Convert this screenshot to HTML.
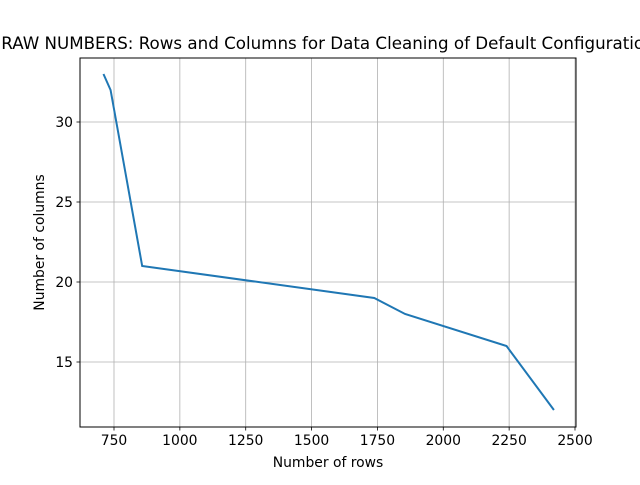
<!DOCTYPE html>
<html><head><meta charset="utf-8"><style>
body{margin:0;background:#fff;}
svg text{font-family:"DejaVu Sans","Liberation Sans",sans-serif;fill:#000;}
</style></head><body>
<svg id="chart" width="640" height="480"></svg>
<script>
const rows=[710,737,857,1738,1855,2240,2420];
const cols=[33,32,21,19,18,16,12];
const xTicks=[750,1000,1250,1500,1750,2000,2250,2500];
const yTicks=[15,20,25,30];
const L=80,R=576,T=58,B=427;
const xs=v=>114+(v-750)*(461/1750);
const ys=v=>122+(30-v)*16;
const svg=document.getElementById('chart');
const NS='http://www.w3.org/2000/svg';
function mk(tag,attrs,parent){const e=document.createElementNS(NS,tag);for(const k in attrs)e.setAttribute(k,attrs[k]);(parent||svg).appendChild(e);return e;}
const grid=mk('g',{});


xTicks.forEach(t=>{const x=xs(t);
mk('line',{x1:x,x2:x,y1:T,y2:B,stroke:'#b0b0b0','stroke-width':0.8},grid);
mk('line',{x1:x,x2:x,y1:B,y2:B+3.5,stroke:'#000','stroke-width':0.8});
const tx=mk('text',{x:x,y:B+18,'font-size':13.9,'text-anchor':'middle'});tx.textContent=t;

});
yTicks.forEach(t=>{const y=ys(t);
mk('line',{x1:L,x2:R,y1:y,y2:y,stroke:'#b0b0b0','stroke-width':0.8},grid);
mk('line',{x1:L-3.5,x2:L,y1:y,y2:y,stroke:'#000','stroke-width':0.8});
const tx=mk('text',{x:L-7,y:y+5,'font-size':13.9,'text-anchor':'end'});tx.textContent=t;

});
const line=mk('polyline',{points:rows.map((r,i)=>xs(r)+','+ys(cols[i])).join(' '),fill:'none',stroke:'#1f77b4','stroke-width':2});


const frame=mk('rect',{x:L,y:T,width:R-L,height:B-T,fill:'none',stroke:'#000','stroke-width':1});


const xt=mk('text',{x:(L+R)/2,y:467,'font-size':13.9,'text-anchor':'middle'});xt.textContent='Number of rows';


const yt=mk('text',{x:0,y:0,'font-size':13.9,'text-anchor':'middle',transform:'translate(44,'+((T+B)/2)+') rotate(-90)'});yt.textContent='Number of columns';


const tt=mk('text',{x:(L+R)/2,y:49,'font-size':16.7,'text-anchor':'middle'});tt.textContent='RAW NUMBERS: Rows and Columns for Data Cleaning of Default Configuration';


</script>
</body></html>
